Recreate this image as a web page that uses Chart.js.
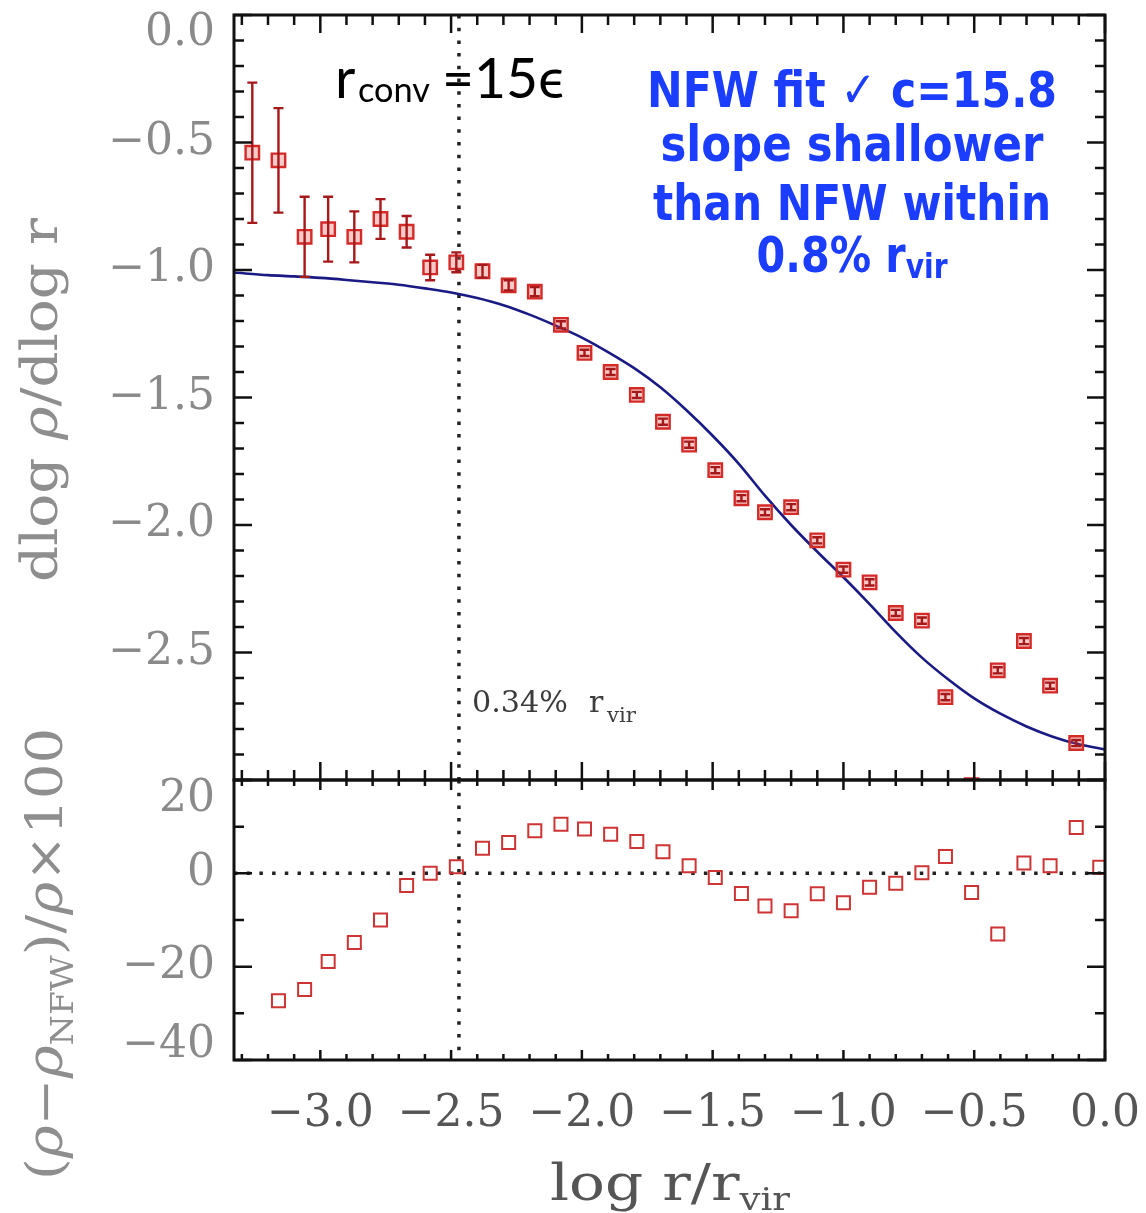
<!DOCTYPE html>
<html><head><meta charset="utf-8">
<script src="https://cdn.jsdelivr.net/npm/chart.js@4.4.0/dist/chart.umd.min.js"></script>
<style>
html,body{margin:0;padding:0;background:#fff;}
#wrap{position:relative;width:1146px;height:1213px;overflow:hidden;background:#fff;}
#c1{position:absolute;left:0;top:0;}
#c2{position:absolute;left:0;top:690px;}
</style></head><body>
<div id="wrap">
<canvas id="c1" width="1146" height="790"></canvas>
<canvas id="c2" width="1146" height="523"></canvas>
</div>
<script>
// ---------------- data ----------------
const logR = [-3.26,-3.16,-3.06,-2.97,-2.87,-2.77,-2.67,-2.58,-2.48,-2.38,-2.28,-2.18,-2.08,-1.99,-1.89,-1.79,-1.69,-1.59,-1.49,-1.39,-1.30,-1.20,-1.10,-1.00,-0.90,-0.80,-0.70,-0.61,-0.51,-0.41,-0.31,-0.21,-0.11,-0.02];
const slope = [-0.54,-0.57,-0.87,-0.84,-0.87,-0.80,-0.85,-0.99,-0.97,-1.005,-1.06,-1.085,-1.215,-1.325,-1.40,-1.49,-1.595,-1.685,-1.785,-1.895,-1.95,-1.93,-2.06,-2.175,-2.225,-2.345,-2.375,-2.675,-3.02,-2.57,-2.455,-2.63,-2.855,null];
const slopeErr = [0.275,0.205,0.157,0.127,0.10,0.078,0.062,0.05,0.039,0.025,0.02,0.018,0.014,0.012,0.012,0.012,0.012,0.012,0.012,0.012,0.012,0.012,0.012,0.012,0.012,0.012,0.012,0.012,0.012,0.012,0.012,0.012,0.012,null];
const resid = [null,-27.3,-24.9,-18.9,-14.8,-10.0,-2.6,0.0,1.4,5.4,6.6,9.1,10.5,9.5,8.4,6.8,4.6,1.6,-0.9,-4.3,-7.0,-8.0,-4.4,-6.3,-3.0,-2.1,0.1,3.6,-4.1,-13.0,2.2,1.6,9.8,1.3];
const nfwX = [-3.33,-3.2,-3.1,-3.0,-2.9,-2.8,-2.7,-2.6,-2.5,-2.4,-2.3,-2.2,-2.1,-2.0,-1.9,-1.8,-1.7,-1.6,-1.5,-1.4,-1.3,-1.2,-1.1,-1.0,-0.9,-0.8,-0.7,-0.6,-0.5,-0.4,-0.3,-0.2,-0.1,0.0];
const nfwY = [-1.01,-1.02,-1.025,-1.031,-1.039,-1.048,-1.058,-1.072,-1.088,-1.11,-1.138,-1.175,-1.218,-1.265,-1.322,-1.385,-1.46,-1.55,-1.65,-1.76,-1.885,-2.0,-2.105,-2.205,-2.31,-2.42,-2.52,-2.605,-2.68,-2.74,-2.79,-2.83,-2.86,-2.88];
const convLogR = -2.47;
const xRange = [-3.33, 0.0];
const slopeRange = [-3.0, 0.0];
const residRange = [-40, 20];
const xTickStep = 0.5, slopeTickStep = 0.5, residTickStep = 20;

// ---------------- helpers ----------------
const SERIF = '"DejaVu Serif", "Liberation Serif", serif';
const fmt = v => (Math.abs(v) < 1e-9 ? '0' : String(v)).replace('-', '\u2212');
const fmt1 = v => (Math.abs(v) < 1e-9 ? '0.0' : v.toFixed(1)).replace('-', '\u2212');

function drawRich(ctx, segs, o) {
  ctx.save();
  const w = o.weight || 'normal';
  const fontOf = s => `${s.italic ? 'italic ' : ''}${w} ${o.size*(s.scale||1)}px ${o.family}`;
  let nat = 0;
  const ws = segs.map(s => { ctx.font = fontOf(s); const m = ctx.measureText(s.t).width + (s.gap||0)*o.size; nat += m; return m; });
  const sx = o.width ? o.width / nat : 1;
  const total = nat * sx;
  let x0 = o.align === 'center' ? o.x - total/2 : (o.align === 'right' ? o.x - total : o.x);
  ctx.translate(x0, o.y);
  ctx.scale(sx, 1);
  ctx.fillStyle = o.color || '#000';
  ctx.textBaseline = 'alphabetic';
  ctx.textAlign = 'left';
  let cx = 0;
  segs.forEach((s, i) => {
    ctx.font = fontOf(s);
    ctx.fillText(s.t, cx + (s.gap||0)*o.size, (s.dy||0)*o.size);
    cx += ws[i];
  });
  ctx.restore();
}

function frameTicks(chart, spec) {
  const ctx = chart.ctx, a = chart.chartArea, xs = chart.scales.x, ys = chart.scales.y;
  ctx.save();
  ctx.strokeStyle = '#111';
  ctx.lineWidth = 2.5;
  ctx.beginPath();
  for (let k = -33; k <= 0; k++) {
    const v = k/10, px = xs.getPixelForValue(v), major = (k % 5 === 0);
    const lt = major ? spec.xMaj : spec.xMin;
    const lb = major ? spec.xMajB : spec.xMinB;
    ctx.moveTo(px, a.top); ctx.lineTo(px, a.top + lt);
    ctx.moveTo(px, a.bottom); ctx.lineTo(px, a.bottom - lb);
  }
  for (let k = spec.yFrom; k <= spec.yTo; k++) {
    const v = k*spec.yStep, py = ys.getPixelForValue(v), major = (k % spec.yMajEvery === 0);
    const l = major ? 18 : 10;
    ctx.moveTo(a.left, py); ctx.lineTo(a.left + l, py);
    ctx.moveTo(a.right, py); ctx.lineTo(a.right - l, py);
  }
  ctx.stroke();
  ctx.lineWidth = 3;
  ctx.strokeRect(a.left, a.top, a.right - a.left, a.bottom - a.top);
  ctx.restore();
}

const errorBars = {
  id: 'errorBars',
  afterDatasetsDraw(chart) {
    const ctx = chart.ctx, a = chart.chartArea, xs = chart.scales.x, ys = chart.scales.y;
    ctx.save();
    ctx.beginPath(); ctx.rect(a.left, a.top, a.right-a.left, a.bottom-a.top); ctx.clip();
    ctx.strokeStyle = '#a5191b';
    ctx.lineWidth = 2.4;
    ctx.beginPath();
    logR.forEach((x, i) => {
      if (slope[i] === null || slopeErr[i] === null) return;
      const px = xs.getPixelForValue(x);
      const y1 = ys.getPixelForValue(slope[i] + slopeErr[i]);
      const y2 = ys.getPixelForValue(slope[i] - slopeErr[i]);
      ctx.moveTo(px, y1); ctx.lineTo(px, y2);
      ctx.moveTo(px - 5, y1); ctx.lineTo(px + 5, y1);
      ctx.moveTo(px - 5, y2); ctx.lineTo(px + 5, y2);
    });
    ctx.stroke();
    ctx.restore();
  }
};

const topDecor = {
  id: 'topDecor',
  afterDraw(chart) {
    const ctx = chart.ctx;
    frameTicks(chart, {xMaj:18, xMin:10, xMajB:18, xMinB:10, yFrom:-30, yTo:0, yStep:0.1, yMajEvery:5});
    ctx.save();
    ctx.font = `44px ${SERIF}`; ctx.fillStyle = '#8a8a8a'; ctx.textAlign = 'right'; ctx.textBaseline = 'middle';
    ctx.fillText(fmt1(0), 215, 34);
    ctx.restore();
    ctx.save();
    ctx.translate(57, 400); ctx.rotate(-Math.PI/2);
    drawRich(ctx, [{t:'dlog '}, {t:'\u03C1', italic:true}, {t:'/dlog r'}], {x:0, y:0, size:50, family:SERIF, color:'#8e8e8e', width:364, align:'center'});
    ctx.restore();
    drawRich(ctx, [{t:'r'}], {x:335, y:98, size:56, family:'Lato, "Open Sans", sans-serif', color:'#000'});
    drawRich(ctx, [{t:'conv'}], {x:358, y:102, size:34, family:'Lato, "Open Sans", sans-serif', color:'#000', width:72});
    drawRich(ctx, [{t:'=15\u03F5'}], {x:442, y:98, size:56, family:'Lato, "Open Sans", sans-serif', color:'#000', width:122});
    const B = {size:50, family:'"DejaVu Sans", sans-serif', weight:'bold', color:'#1a3dff', align:'center', x:852};
    drawRich(ctx, [{t:'NFW fit \u2713 c=15.8'}], Object.assign({}, B, {y:107, width:410}));
    drawRich(ctx, [{t:'slope shallower'}], Object.assign({}, B, {y:161, width:383}));
    drawRich(ctx, [{t:'than NFW within'}], Object.assign({}, B, {y:220, width:398}));
    drawRich(ctx, [{t:'0.8% r'}, {t:'vir', scale:0.68, dy:0.11}], Object.assign({}, B, {y:272, width:191}));
    drawRich(ctx, [{t:'0.34%'}], {x:472, y:712, size:30, family:SERIF, color:'#3c3c3c', width:96});
    drawRich(ctx, [{t:'r'}], {x:589, y:712, size:30, family:SERIF, color:'#3c3c3c'});
    drawRich(ctx, [{t:'vir'}], {x:607, y:722, size:20, family:SERIF, color:'#3c3c3c', width:29});
  }
};

const botDecor = {
  id: 'botDecor',
  afterDraw(chart) {
    const ctx = chart.ctx;
    frameTicks(chart, {xMaj:10, xMin:6, xMajB:10, xMinB:6, yFrom:-4, yTo:2, yStep:10, yMajEvery:2});
    ctx.save();
    ctx.font = `44px ${SERIF}`; ctx.fillStyle = '#8a8a8a'; ctx.textAlign = 'right'; ctx.textBaseline = 'middle';
    ctx.fillText(fmt(20), 215, 110);
    ctx.fillText(fmt(-40), 215, 356);
    ctx.restore();
    ctx.save();
    ctx.translate(62, 264); ctx.rotate(-Math.PI/2);
    drawRich(ctx, [{t:'('}, {t:'\u03C1', italic:true}, {t:'\u2212'}, {t:'\u03C1', italic:true}, {t:'NFW', scale:0.62, dy:0.22}, {t:')/'}, {t:'\u03C1', italic:true}, {t:'\u00D7100'}],
      {x:0, y:0, size:50, family:SERIF, color:'#8e8e8e', width:452, align:'center'});
    ctx.restore();
    drawRich(ctx, [{t:'log r/r'}, {t:'vir', scale:0.62, dy:0.2}], {x:670, y:510, size:50, family:SERIF, color:'#555', width:240, align:'center'});
  }
};

// ---------------- charts ----------------
const pts = (xs, ys) => xs.map((x, i) => ({x, y: ys[i]})).filter(p => p.y !== null);
const noPad = s => { s.paddingTop = 0; s.paddingBottom = 0; s.paddingLeft = 0; s.paddingRight = 0; };

const common = {
  responsive: false, animation: false, events: [],
  plugins: { legend: {display:false}, tooltip: {enabled:false} }
};

new Chart(document.getElementById('c1'), {
  type: 'scatter',
  data: { datasets: [
    { data: pts(logR, slope), pointStyle:'rect', pointRadius:9.5, borderColor:'#d42a28', backgroundColor:'rgba(235,80,70,0.30)', borderWidth:2.4, showLine:false, clip:0 },
    { data: pts(nfwX, nfwY), showLine:true, pointRadius:0, borderColor:'#1a1a84', borderWidth:2.6, cubicInterpolationMode:'monotone', clip:0 },
    { data: [{x:convLogR, y:slopeRange[1]}, {x:convLogR, y:slopeRange[0]}], showLine:true, pointRadius:0, borderColor:'#222', borderWidth:3.5, borderDash:[3.5, 9.2], clip:0 }
  ]},
  options: Object.assign({}, common, {
    layout: { autoPadding:false, padding: {left:0, right:41, top:15, bottom:10} },
    scales: {
      x: { type:'linear', min:xRange[0], max:xRange[1], display:false, afterFit: noPad },
      y: { type:'linear', min:slopeRange[0], max:slopeRange[1],
           grid:{display:false, drawTicks:false}, border:{display:false},
           afterFit: s => { s.width = 234; noPad(s); },
           ticks: { stepSize:slopeTickStep, autoSkip:false, padding:19, color:'#8a8a8a',
                    font:{family:SERIF, size:44},
                    callback: v => (Math.abs(v) < 1e-9 || Math.abs(v - slopeRange[0]) < 1e-9) ? '' : fmt1(v) } }
    }
  }),
  plugins: [errorBars, topDecor]
});

new Chart(document.getElementById('c2'), {
  type: 'scatter',
  data: { datasets: [
    { data: pts(logR, resid), pointStyle:'rect', pointRadius:9.2, borderColor:'#cf3434', backgroundColor:'rgba(0,0,0,0)', borderWidth:2, showLine:false, clip:0 },
    { data: [{x:convLogR, y:residRange[1]}, {x:convLogR, y:residRange[0]}], showLine:true, pointRadius:0, borderColor:'#222', borderWidth:3.5, borderDash:[3.5, 9.2], clip:0 },
    { data: [{x:xRange[0], y:0}, {x:xRange[1], y:0}], showLine:true, pointRadius:0, borderColor:'#222', borderWidth:3.5, borderDash:[3.5, 9.2], clip:0 }
  ]},
  options: Object.assign({}, common, {
    layout: { autoPadding:false, padding: {left:0, right:41, top:90, bottom:0} },
    scales: {
      x: { type:'linear', min:xRange[0], max:xRange[1],
           grid:{display:false, drawTicks:false}, border:{display:false},
           afterFit: s => { s.height = 153; noPad(s); },
           ticks: { stepSize:xTickStep, includeBounds:false, autoSkip:false, maxRotation:0, padding:28, color:'#555',
                    font:{family:SERIF, size:44}, callback: v => fmt1(v) } },
      y: { type:'linear', min:residRange[0], max:residRange[1],
           grid:{display:false, drawTicks:false}, border:{display:false},
           afterFit: s => { s.width = 234; noPad(s); },
           ticks: { stepSize:residTickStep, autoSkip:false, padding:19, color:'#8a8a8a',
                    font:{family:SERIF, size:44},
                    callback: v => (v === residRange[1] || v === residRange[0]) ? '' : fmt(v) } }
    }
  }),
  plugins: [botDecor]
});
</script>
</body></html>
